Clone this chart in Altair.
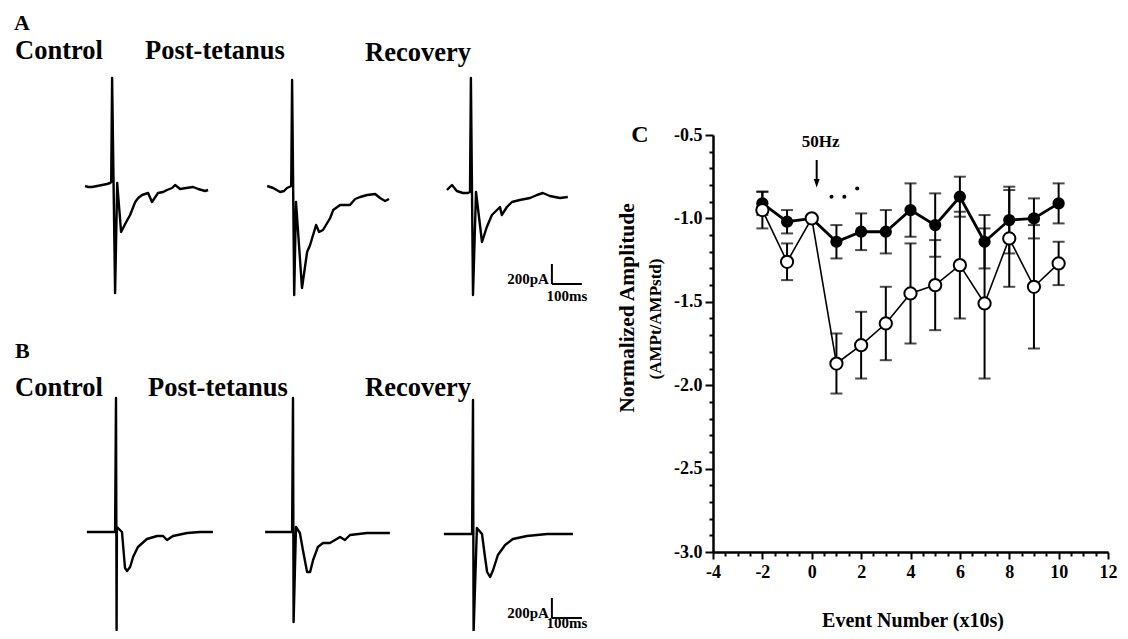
import altair as alt
import numpy as np
import pandas as pd

FONT = "Liberation Serif"

# ---------------- Panel C data ----------------
event = [-2, -1, 0, 1, 2, 3, 4, 5, 6, 7, 8, 9, 10]
filled_mean = [-0.91, -1.02, -1.00, -1.14, -1.08, -1.08, -0.95, -1.04, -0.87, -1.14, -1.01, -1.00, -0.91]
filled_sem = [0.07, 0.07, 0.00, 0.10, 0.11, 0.13, 0.16, 0.19, 0.12, 0.16, 0.20, 0.12, 0.12]
open_mean = [-0.95, -1.26, -1.00, -1.87, -1.76, -1.63, -1.45, -1.40, -1.28, -1.51, -1.12, -1.41, -1.27]
open_sem = [0.11, 0.11, 0.00, 0.18, 0.20, 0.22, 0.30, 0.27, 0.32, 0.45, 0.29, 0.37, 0.13]

sig_x = [0.8, 1.32, 1.84]
sig_y = [-0.87, -0.87, -0.82]
arrow_x = [0.2]
arrow_top = [-0.65]
arrow_head = [-0.79]
stim_label = ["50Hz"]
stim_label_pos = [0.36, -0.54]

# ---------------- Traces (t: ms from stimulus, i: pA from baseline) ----------------
A_control_t = [-90, -80, -67, -50, -33, -17, -7, -3, 0, 10, 17, 30, 47, 60, 77, 87, 100, 120, 133, 153, 170, 183, 200, 210, 227, 247, 270, 287, 310, 320]
A_control_i = [20, 10, 10, 20, 30, 40, 50, 60, 1100, -1050, 50, -440, -340, -270, -140, -100, -70, -50, -140, -50, -40, -20, 0, 30, -10, 0, 10, -10, -30, -20]
A_post_t = [-83, -63, -40, -27, -17, -3, 0, 7, 13, 33, 50, 60, 80, 90, 103, 127, 137, 160, 193, 210, 227, 250, 277, 293, 310, 323]
A_post_i = [20, 0, -40, -30, 0, 20, 1080, -1070, -140, -1000, -640, -570, -370, -440, -420, -300, -220, -170, -170, -110, -90, -70, -60, -100, -130, -110]
A_rec_t = [-80, -63, -47, -27, -10, -3, 0, 7, 17, 37, 53, 70, 87, 97, 103, 120, 137, 163, 197, 220, 240, 263, 297, 323]
A_rec_i = [-20, 30, -30, -50, -50, -40, 1100, -1070, -40, -540, -390, -270, -220, -190, -270, -190, -140, -120, -100, -70, -50, -80, -100, -90]

B_control_t = [-97, -3, 0, 2, 3, 20, 23, 30, 37, 47, 57, 73, 103, 137, 157, 170, 190, 237, 280, 323]
B_control_i = [0, 0, 1340, -980, 50, 0, -110, -360, -390, -350, -250, -150, -70, -40, -40, -80, -40, -10, 0, 0]
B_post_t = [-93, -3, 0, 2, 10, 23, 33, 47, 57, 67, 83, 100, 123, 157, 173, 190, 247, 323]
B_post_i = [0, 0, 1340, -900, 50, -10, -180, -400, -400, -280, -150, -110, -110, -50, -80, -30, -10, -10]
B_rec_t = [-97, -3, 0, 2, 13, 30, 40, 47, 57, 67, 83, 107, 133, 180, 247, 333]
B_rec_i = [-20, -20, 1320, -1000, 40, -20, -250, -400, -450, -380, -230, -130, -70, -40, -20, -20]

scale_bar_ms = 100
scale_bar_pa = 200

# ---------------- layout (trace origins in the trace frame: ms, pA) ----------------
ORIGIN = {
    "A-Control": (347, -1800), "A-Post": (947, -1800), "A-Recovery": (1543, -1800),
    "B-Control": (360, -5240), "B-Post": (950, -5240), "B-Recovery": (1550, -5240),
}
TRACES = {
    "A-Control": (A_control_t, A_control_i), "A-Post": (A_post_t, A_post_i),
    "A-Recovery": (A_rec_t, A_rec_i), "B-Control": (B_control_t, B_control_i),
    "B-Post": (B_post_t, B_post_i), "B-Recovery": (B_rec_t, B_rec_i),
}
BAR_ANCHOR = {"A": (1813, -2760), "B": (1813, -6100)}

rows = []
for name, (tt, ii) in TRACES.items():
    x0, y0 = ORIGIN[name]
    for k, (t, i) in enumerate(zip(tt, ii)):
        rows.append({"trace": name, "k": k, "x": t + x0, "y": i + y0})
df_tr = pd.DataFrame(rows)

bars = []
for p, (bx, by) in BAR_ANCHOR.items():
    bars.append({"x": bx, "x2": bx, "y": by, "y2": by + scale_bar_pa})
    bars.append({"x": bx, "x2": bx + scale_bar_ms, "y": by, "y2": by})
df_bar = pd.DataFrame(bars)
df_bar_txt = pd.DataFrame([
    {"x": BAR_ANCHOR[p][0] - 10, "y": BAR_ANCHOR[p][1] + 5, "t": f"{scale_bar_pa}pA"} for p in "AB"])
df_ms_txt = pd.DataFrame([
    {"x": BAR_ANCHOR["A"][0] + scale_bar_ms / 2, "y": BAR_ANCHOR["A"][1] - 170, "t": f"{scale_bar_ms}ms"},
    {"x": BAR_ANCHOR["B"][0] + scale_bar_ms / 2, "y": BAR_ANCHOR["B"][1] - 100, "t": f"{scale_bar_ms}ms"},
])

PLOT_W, PLOT_H = 395, 417
PAD = {"left": 705, "top": 127, "right": 12, "bottom": 79}

xs_tr = alt.Scale(domain=[0, 2000], range=[-705, -105], nice=False, zero=False)
ys_tr = alt.Scale(domain=[-6200, 0], range=[493, -127], nice=False, zero=False)

trace_lines = alt.Chart(df_tr).mark_line(color="black", strokeWidth=2.4, strokeJoin="round").encode(
    x=alt.X("x:Q", scale=xs_tr, axis=None),
    y=alt.Y("y:Q", scale=ys_tr, axis=None),
    detail="trace:N", order="k:Q")
bar_rules = alt.Chart(df_bar).mark_rule(color="black", strokeWidth=2).encode(
    x=alt.X("x:Q", scale=xs_tr, axis=None), x2="x2:Q",
    y=alt.Y("y:Q", scale=ys_tr, axis=None), y2="y2:Q")
bar_pa = alt.Chart(df_bar_txt).mark_text(font=FONT, fontWeight="bold", fontSize=15, align="right",
                                          baseline="alphabetic", color="black").encode(
    x=alt.X("x:Q", scale=xs_tr, axis=None), y=alt.Y("y:Q", scale=ys_tr, axis=None), text="t:N")
bar_ms = alt.Chart(df_ms_txt).mark_text(font=FONT, fontWeight="bold", fontSize=15, align="center",
                                         baseline="alphabetic", color="black").encode(
    x=alt.X("x:Q", scale=xs_tr, axis=None), y=alt.Y("y:Q", scale=ys_tr, axis=None), text="t:N")
trace_group = alt.layer(trace_lines, bar_rules, bar_pa, bar_ms)

# ---------------- Panel C ----------------
xs_c = alt.Scale(domain=[-4, 12], nice=False, zero=False)
ys_c = alt.Scale(domain=[-3.0, -0.5], nice=False, zero=False)

df_c = pd.DataFrame({
    "event": event * 2,
    "series": ["filled"] * len(event) + ["open"] * len(event),
    "mean": filled_mean + open_mean,
    "sem": filled_sem + open_sem,
})
df_c["lo"] = df_c["mean"] - df_c["sem"]
df_c["hi"] = df_c["mean"] + df_c["sem"]

xticks = np.arange(-4, 12.01, 0.5).tolist()
yticks = np.round(np.arange(-3.0, -0.45, 0.1), 1).tolist()

x_axis = alt.Axis(
    orient="bottom", values=xticks, title=None, grid=False,
    labelExpr="datum.value % 2 == 0 ? ((datum.value < 0 ? '-' : '') + abs(datum.value)) : ''",
    tickSize={"condition": {"test": "datum.value % 2 == 0", "value": 7}, "value": 4},
    tickColor="black", tickWidth=2, domainColor="black", domainWidth=2.5,
    labelFont=FONT, labelFontWeight="bold", labelFontSize=18, labelColor="black",
    labelPadding=4, labelFlush=False, labelOverlap=False)
y_axis = alt.Axis(
    orient="left", values=yticks, title=None, grid=False,
    labelExpr="abs(datum.value*2 - round(datum.value*2)) < 0.01 ? ('-' + format(abs(datum.value), '.1f')) : ''",
    tickSize={"condition": {"test": "abs(datum.value*2 - round(datum.value*2)) < 0.01", "value": 8}, "value": 4},
    tickColor="black", tickWidth=2, domainColor="black", domainWidth=2.5,
    labelFont=FONT, labelFontWeight="bold", labelFontSize=18, labelColor="black",
    labelPadding=3, labelFlush=False, labelOverlap=False)


def cx(field):
    return alt.X(field, scale=xs_c, axis=x_axis)


def cy(field):
    return alt.Y(field, scale=ys_c, axis=y_axis)


base_c = alt.Chart(df_c)
err_rule = base_c.mark_rule(color="black", strokeWidth=2).encode(
    x=cx("event:Q"), y=cy("lo:Q"), y2="hi:Q")
cap_lo = base_c.mark_tick(color="black", orient="horizontal", size=12, thickness=2).encode(
    x=cx("event:Q"), y=cy("lo:Q"))
cap_hi = base_c.mark_tick(color="black", orient="horizontal", size=12, thickness=2).encode(
    x=cx("event:Q"), y=cy("hi:Q"))
line_f = base_c.transform_filter("datum.series == 'filled'").mark_line(color="black", strokeWidth=2.8).encode(
    x=cx("event:Q"), y=cy("mean:Q"))
line_o = base_c.transform_filter("datum.series == 'open'").mark_line(color="black", strokeWidth=1.6).encode(
    x=cx("event:Q"), y=cy("mean:Q"))
pts_f = base_c.transform_filter("datum.series == 'filled'").mark_point(
    shape="circle", filled=True, color="black", size=150, opacity=1).encode(
    x=cx("event:Q"), y=cy("mean:Q"))
pts_o = base_c.transform_filter("datum.series == 'open'").mark_point(
    shape="circle", filled=True, fill="white", stroke="black", strokeWidth=2, size=150, opacity=1).encode(
    x=cx("event:Q"), y=cy("mean:Q"))

df_sig = pd.DataFrame({"x": sig_x, "y": sig_y})
sig = alt.Chart(df_sig).mark_point(shape="circle", filled=True, color="black", size=16, opacity=1).encode(
    x=cx("x:Q"), y=cy("y:Q"))

df_arrow = pd.DataFrame({"x": arrow_x, "top": arrow_top, "head": arrow_head})
shaft = alt.Chart(df_arrow).mark_rule(color="black", strokeWidth=2).encode(
    x=cx("x:Q"), y=cy("top:Q"), y2="head:Q")
head = alt.Chart(df_arrow).mark_point(shape="M-0.35,-0.5L0.35,-0.5L0,0.5Z", filled=True, color="black",
                                      size=289, opacity=1).encode(
    x=cx("x:Q"), y=cy("head:Q"))
df_stim = pd.DataFrame({"x": [stim_label_pos[0]], "y": [stim_label_pos[1]], "t": stim_label})
stim = alt.Chart(df_stim).mark_text(font=FONT, fontWeight="bold", fontSize=17, color="black",
                                    baseline="middle", align="center").encode(
    x=cx("x:Q"), y=cy("y:Q"), text="t:N")

c_group = alt.layer(err_rule, cap_lo, cap_hi, line_f, pts_f, line_o, pts_o, sig, shaft, head, stim)

# ---------------- static text (panel letters, labels, titles) ----------------
dummy = pd.DataFrame({"d": [0]})


def label(txt, px, py, size, align="left", baseline="alphabetic", angle=0):
    return alt.Chart(dummy).mark_text(text=txt, font=FONT, fontWeight="bold", fontSize=size, color="black",
                                      align=align, baseline=baseline, angle=angle).encode(
        x=alt.value(px), y=alt.value(py))


texts = [
    label("A", -699, -105, 22),
    label("Control", -698, -76, 26.5),
    label("Post-tetanus", -568, -76, 26.5),
    label("Recovery", -348, -74, 26.5),
    label("B", -698, 223, 22),
    label("Control", -698, 261, 26.5),
    label("Post-tetanus", -565, 261, 26.5),
    label("Recovery", -348, 261, 26.5),
    label("C", -73, 0, 24, align="center", baseline="middle"),
    label("Normalized Amplitude", -85, 173, 21.5, align="center", baseline="middle", angle=270),
    label("(AMPt/AMPstd)", -57, 184, 17, align="center", baseline="middle", angle=270),
    label("Event Number (x10s)", 200, 486, 20, align="center", baseline="middle"),
]
text_group = alt.layer(*texts)

chart = alt.layer(trace_group, c_group, text_group).resolve_scale(
    x="independent", y="independent"
).properties(
    width=PLOT_W, height=PLOT_H,
    autosize=alt.AutoSizeParams(type="none"),
    padding=PAD,
    background="white",
).configure_view(stroke=None)

chart.save("out.html", embed_options={"renderer": "svg", "actions": False})
